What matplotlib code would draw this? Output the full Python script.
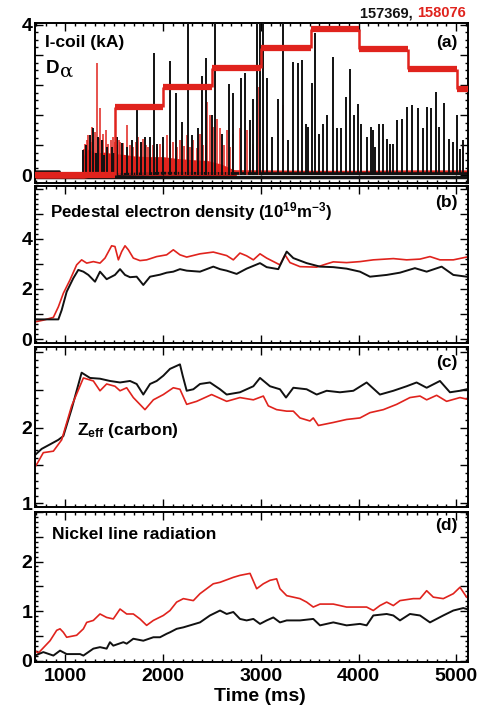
import matplotlib
matplotlib.use('Agg')
import matplotlib.pyplot as plt
from matplotlib.ticker import FixedLocator, MultipleLocator, FuncFormatter

FONT = ['Liberation Sans', 'DejaVu Sans']
plt.rcParams['font.family'] = FONT
plt.rcParams['font.weight'] = 'bold'
plt.rcParams['mathtext.fontset'] = 'custom'
plt.rcParams['mathtext.rm'] = 'Liberation Sans:bold'
plt.rcParams['mathtext.it'] = 'Liberation Sans:bold'
plt.rcParams['mathtext.bf'] = 'Liberation Sans:bold'

RED = '#e0231d'
BLACK = '#111111'

# ---------------- data ----------------
# (a) I-coil current of shot 158076 (kA): step edges (ms) and levels
icoil_edges = [690, 1510, 2000, 2505, 3000, 3510, 4005, 4510, 5010, 5120]
icoil_levels = [0.0, 1.82, 2.34, 2.86, 3.38, 3.89, 3.36, 2.84, 2.31]

# (a) D-alpha ELM spikes, shot 157369 (black): time (ms), peak height
da_black_t = [1185, 1210, 1253, 1287, 1310, 1338, 1372, 1400, 1423, 1474, 1500, 1526,
              1580, 1628, 1679, 1730, 1770, 1815, 1867, 1907, 1935, 2003, 2071, 2132,
              2197, 2259, 2293, 2361, 2402, 2439, 2497, 2531, 2600, 2675, 2719, 2794,
              2838, 2890, 2924, 2965, 2992, 3026, 3067, 3111, 3179, 3231, 3282, 3333,
              3384, 3418, 3462, 3486, 3520, 3554, 3599, 3640, 3674, 3735, 3776, 3817,
              3868, 3913, 3953, 3991, 4025, 4083, 4124, 4144, 4168, 4213, 4247, 4294,
              4322, 4356, 4396, 4441, 4492, 4543, 4612, 4656, 4704, 4738, 4792, 4826,
              4874, 4929, 4970, 5004, 5038, 5065]
da_black_h = [0.67, 0.80, 1.07, 1.25, 0.60, 1.02, 0.93, 0.55, 0.76, 0.76, 0.60, 1.02,
              0.85, 0.76, 0.93, 1.84, 0.90, 1.02, 1.02, 3.24, 0.84, 1.02, 3.05, 2.18,
              1.42, 4.20, 1.07, 1.25, 2.64, 3.11, 1.60, 4.20, 1.11, 2.42, 2.18, 2.58,
              2.73, 1.47, 2.04, 4.20, 4.20, 4.20, 2.58, 1.02, 2.04, 4.20, 0.93, 3.02,
              2.98, 3.07, 1.38, 1.29, 2.46, 3.78, 1.11, 1.38, 1.60, 3.16, 1.25, 1.25,
              2.09, 2.82, 1.60, 1.91, 1.38, 1.02, 1.29, 1.20, 0.76, 1.38, 1.38, 0.98,
              0.84, 0.84, 1.47, 1.51, 1.82, 1.87, 1.78, 1.25, 1.82, 1.78, 2.22, 1.29,
              1.93, 0.98, 0.89, 1.60, 0.71, 0.93]

# (a) D-alpha ELM spikes, shot 158076 (red)
da_red_t = [1190, 1202, 1220, 1236, 1260, 1275, 1287, 1305, 1328, 1340, 1355, 1372,
            1389, 1415, 1440, 1465, 1491, 1510, 1526, 1545, 1560, 1595, 1628, 1660,
            1696, 1720, 1747, 1775, 1798, 1825, 1849, 1900, 1940, 1969, 2000, 2037,
            2070, 2105, 2140, 2173, 2210, 2242, 2275, 2310, 2345, 2378, 2410, 2446,
            2480, 2514, 2549, 2583, 2620, 2651, 2685, 2719, 2787, 2855, 2924, 2985,
            3060, 3224, 5065]
da_red_h = [0.70, 0.84, 0.95, 1.07, 0.90, 1.30, 0.98, 1.15, 2.98, 1.00, 1.78, 0.95,
            1.11, 1.20, 0.84, 0.95, 1.02, 0.90, 0.80, 0.95, 0.89, 0.85, 1.33, 0.80,
            0.76, 0.90, 1.02, 0.85, 0.98, 0.80, 0.76, 0.80, 0.75, 0.84, 0.78, 1.07,
            0.80, 0.89, 0.75, 0.93, 0.78, 1.07, 0.75, 0.93, 0.72, 1.11, 0.80, 1.96,
            1.60, 1.29, 1.51, 1.25, 0.80, 1.20, 0.75, 1.11, 1.25, 1.20, 0.84, 2.36,
            0.84, 1.87, 0.89]

# (a) dense red D-alpha envelope during the early ELMy phase
red_grass_t = [1180, 1230, 1290, 1330, 1400, 1500, 1600, 1700, 1850, 2000, 2150,
               2300, 2450, 2600, 2750]
red_grass_v = [0.50, 0.70, 0.62, 0.60, 0.62, 0.58, 0.56, 0.52, 0.50, 0.50, 0.45,
               0.42, 0.40, 0.30, 0.12]

# (a) baselines
da_black_base_t = [690, 940, 945, 1190, 2000, 3000, 4000, 5120]
da_black_base_v = [0.10, 0.10, 0.00, 0.00, 0.06, 0.05, 0.05, 0.05]
da_red_base_t = [690, 1190, 1500, 2500, 3000, 3500, 4000, 4500, 5120]
da_red_base_v = [-0.03, -0.03, 0.10, 0.09, 0.08, 0.07, 0.07, 0.08, 0.08]
icoil_black_t = [690, 5120]
icoil_black_v = [-0.05, -0.05]

# (b) pedestal electron density (1e19 m^-3)
ne_red_t = [690, 775, 878, 929, 980, 1048, 1116, 1167, 1219, 1287, 1355, 1406, 1474,
            1508, 1543, 1577, 1611, 1645, 1696, 1764, 1832, 1935, 2037, 2105, 2173,
            2242, 2378, 2514, 2651, 2719, 2787, 2855, 2924, 2992, 3060, 3196, 3248,
            3299, 3401, 3572, 3674, 3742, 3878, 4015, 4151, 4356, 4492, 4629, 4731,
            4833, 4970, 5106]
ne_red_v = [0.69, 0.76, 0.87, 1.29, 1.83, 2.36, 2.96, 3.16, 3.03, 3.09, 3.03, 3.23,
            3.72, 3.69, 3.16, 3.49, 3.72, 3.56, 3.23, 3.13, 3.16, 3.29, 3.36, 3.56,
            3.36, 3.27, 3.40, 3.47, 3.33, 3.16, 3.43, 3.32, 3.16, 3.40, 3.23, 2.96,
            3.36, 3.05, 2.89, 2.87, 3.00, 3.08, 3.05, 3.09, 3.16, 3.21, 3.16, 3.19,
            3.29, 3.16, 3.16, 3.27]
ne_black_t = [690, 929, 963, 1014, 1082, 1133, 1185, 1236, 1304, 1355, 1423, 1508,
              1560, 1611, 1662, 1730, 1798, 1867, 1969, 2037, 2105, 2173, 2242, 2378,
              2514, 2583, 2651, 2753, 2855, 2992, 3060, 3179, 3265, 3333, 3469, 3606,
              3742, 3878, 4015, 4117, 4288, 4424, 4577, 4697, 4850, 4970, 5106]
ne_black_v = [0.79, 0.79, 1.16, 1.89, 2.43, 2.76, 2.69, 2.56, 2.29, 2.69, 2.39, 2.56,
              2.79, 2.56, 2.47, 2.49, 2.16, 2.49, 2.57, 2.65, 2.69, 2.79, 2.73, 2.69,
              2.89, 2.79, 2.73, 2.60, 2.81, 3.03, 2.87, 2.79, 3.49, 3.23, 3.03, 2.89,
              2.87, 2.81, 2.69, 2.49, 2.56, 2.65, 2.83, 2.69, 2.89, 2.56, 2.49]

# (c) Zeff (carbon)
zeff_black_t = [700, 758, 844, 929, 980, 1065, 1167, 1253, 1355, 1457, 1560, 1662,
                1730, 1798, 1867, 1935, 2003, 2071, 2173, 2201, 2242, 2310, 2378,
                2480, 2583, 2651, 2787, 2924, 2992, 3094, 3196, 3258, 3333, 3469,
                3572, 3674, 3810, 3947, 4083, 4219, 4356, 4492, 4594, 4697, 4833,
                4935, 5038, 5106]
zeff_black_v = [1.65, 1.72, 1.78, 1.84, 1.89, 2.25, 2.73, 2.66, 2.65, 2.62, 2.60,
                2.62, 2.58, 2.44, 2.58, 2.62, 2.69, 2.78, 2.84, 2.69, 2.49, 2.51,
                2.58, 2.60, 2.51, 2.44, 2.47, 2.55, 2.66, 2.55, 2.51, 2.40, 2.53,
                2.51, 2.44, 2.49, 2.47, 2.49, 2.60, 2.44, 2.49, 2.55, 2.60, 2.53,
                2.62, 2.47, 2.49, 2.51]
zeff_red_t = [700, 714, 775, 878, 963, 1065, 1185, 1287, 1355, 1423, 1508, 1560,
              1628, 1696, 1815, 1901, 2003, 2105, 2173, 2242, 2344, 2497, 2651, 2787,
              2924, 3026, 3077, 3162, 3265, 3333, 3401, 3503, 3537, 3589, 3742, 3878,
              4015, 4117, 4254, 4390, 4526, 4629, 4697, 4799, 4901, 5038, 5106]
zeff_red_v = [1.50, 1.53, 1.67, 1.69, 1.84, 2.29, 2.66, 2.62, 2.49, 2.58, 2.55, 2.49,
              2.53, 2.40, 2.24, 2.37, 2.44, 2.53, 2.51, 2.31, 2.35, 2.44, 2.35, 2.40,
              2.37, 2.42, 2.29, 2.24, 2.22, 2.22, 2.13, 2.09, 2.13, 2.03, 2.07, 2.11,
              2.13, 2.20, 2.24, 2.31, 2.40, 2.42, 2.37, 2.43, 2.35, 2.40, 2.38]

# (d) nickel line radiation
ni_red_t = [690, 724, 844, 912, 946, 980, 1014, 1116, 1185, 1219, 1287, 1355, 1423,
            1491, 1560, 1628, 1696, 1764, 1832, 1901, 2003, 2071, 2139, 2208, 2310,
            2378, 2446, 2514, 2583, 2719, 2787, 2890, 2958, 3026, 3094, 3162, 3196,
            3265, 3333, 3401, 3469, 3537, 3606, 3742, 3878, 4015, 4083, 4151, 4219,
            4288, 4356, 4424, 4560, 4629, 4697, 4765, 4867, 4970, 5038, 5106]
ni_red_v = [0.20, 0.15, 0.40, 0.61, 0.64, 0.57, 0.47, 0.51, 0.64, 0.77, 0.81, 0.94,
            0.87, 0.84, 1.04, 0.94, 0.94, 0.84, 0.71, 0.81, 0.91, 1.01, 1.18, 1.25,
            1.21, 1.35, 1.45, 1.55, 1.58, 1.68, 1.72, 1.76, 1.45, 1.55, 1.62, 1.65,
            1.45, 1.31, 1.28, 1.25, 1.18, 1.08, 1.14, 1.14, 1.08, 1.08, 1.08, 1.01,
            1.11, 1.18, 1.11, 1.21, 1.25, 1.25, 1.41, 1.28, 1.25, 1.35, 1.48, 1.28]
ni_black_t = [690, 775, 878, 946, 1014, 1151, 1185, 1287, 1355, 1423, 1457, 1491,
              1594, 1628, 1696, 1798, 1901, 1969, 2037, 2071, 2139, 2208, 2276, 2378,
              2480, 2583, 2651, 2719, 2787, 2855, 2924, 2992, 3060, 3128, 3196, 3265,
              3401, 3537, 3606, 3674, 3742, 3878, 4015, 4083, 4151, 4288, 4356, 4424,
              4526, 4629, 4731, 4867, 4970, 5072, 5106]
ni_black_v = [0.10, 0.17, 0.10, 0.20, 0.13, 0.13, 0.10, 0.24, 0.27, 0.24, 0.37, 0.30,
              0.37, 0.34, 0.44, 0.40, 0.47, 0.47, 0.54, 0.57, 0.64, 0.67, 0.71, 0.77,
              0.91, 1.01, 0.94, 0.98, 0.84, 0.81, 0.84, 0.74, 0.81, 0.87, 0.77, 0.81,
              0.81, 0.84, 0.71, 0.74, 0.77, 0.71, 0.74, 0.71, 0.91, 0.94, 0.91, 0.81,
              0.94, 0.91, 0.77, 0.91, 1.01, 1.06, 1.04]

x_ticks = [1000, 2000, 3000, 4000, 5000]
shots = ['157369', '158076']

# ---------------- layout ----------------
W, H = 484, 711
fig = plt.figure(figsize=(W / 100, H / 100), dpi=100)
L, R = 35, 468

def box(top, bot):
    return [L / W, 1 - bot / H, (R - L) / W, (bot - top) / H]

axa = fig.add_axes(box(23, 183))
axb = fig.add_axes(box(186, 343))
axc = fig.add_axes(box(347, 507))
axd = fig.add_axes(box(512, 662))

XLIM = (690, 5120)

def style(ax, ylim, major, labeled, minor):
    ax.set_xlim(*XLIM)
    ax.set_ylim(*ylim)
    ax.xaxis.set_major_locator(FixedLocator(x_ticks))
    ax.xaxis.set_minor_locator(MultipleLocator(100))
    ax.yaxis.set_major_locator(FixedLocator(major))
    ax.yaxis.set_minor_locator(MultipleLocator(minor))
    ax.yaxis.set_major_formatter(FuncFormatter(
        lambda v, p: ('%g' % v) if any(abs(v - q) < 1e-6 for q in labeled) else ''))
    ax.tick_params(which='both', direction='in', top=True, right=True, width=1.0)
    ax.tick_params(which='major', length=5.5, labelsize=14, pad=2)
    ax.tick_params(which='minor', length=2.5)
    for s in ax.spines.values():
        s.set_linewidth(1.4)
    ax.tick_params(axis='x', labelbottom=False)

style(axa, (-0.2, 4.05), [0, 0.8, 1.6, 2.4, 3.2, 4.0], [0, 4], 0.2)
style(axb, (-0.15, 6.1), [0, 1, 2, 3, 4, 5, 6], [0, 2, 4], 0.2)
style(axc, (0.95, 3.07), [1, 1.5, 2, 2.5, 3], [1, 2], 0.1)
style(axd, (-0.03, 3.0), [0, 0.5, 1, 1.5, 2, 2.5, 3], [0, 1, 2], 0.1)
axd.tick_params(axis='x', labelbottom=True, labelsize=14, pad=4)
axd.set_xticklabels([str(v) for v in x_ticks])

# ---- panel (a)
axa.fill_between(red_grass_t, -0.03, red_grass_v, color=RED, lw=0, zorder=1)
axa.plot(icoil_black_t, icoil_black_v, color=BLACK, lw=2.5, zorder=2)
axa.plot(da_red_base_t, da_red_base_v, color=RED, lw=3, zorder=2)
axa.plot(da_black_base_t, da_black_base_v, color=BLACK, lw=2, zorder=2)
axa.vlines(da_red_t, 0.0, da_red_h, color=RED, lw=1.1, zorder=3)
axa.vlines(da_black_t, 0.0, da_black_h, color=BLACK, lw=1.4, zorder=4)
axa.hlines(icoil_levels, icoil_edges[:-1], icoil_edges[1:], color=RED, lw=4.5,
           zorder=5)
axa.vlines(icoil_edges[1:-1], icoil_levels[:-1], icoil_levels[1:], color=RED,
           lw=1.8, zorder=5)

# ---- panel (b)
axb.plot(ne_red_t, ne_red_v, color=RED, lw=1.2)
axb.plot(ne_black_t, ne_black_v, color=BLACK, lw=1.4)

# ---- panel (c)
axc.plot(zeff_black_t, zeff_black_v, color=BLACK, lw=1.4)
axc.plot(zeff_red_t, zeff_red_v, color=RED, lw=1.2)

# ---- panel (d)
axd.plot(ni_red_t, ni_red_v, color=RED, lw=1.2)
axd.plot(ni_black_t, ni_black_v, color=BLACK, lw=1.4)

# ---- texts
LFS = 12.5
axa.text(0.023, 0.88, 'I-coil (kA)', transform=axa.transAxes, fontsize=LFS,
         ha='left', va='center')
t_d = axa.text(0.025, 0.715, 'D', transform=axa.transAxes, fontsize=LFS + 1,
               ha='left', va='center')
axb.text(0.035, 0.835, r'Pedestal electron density (10$^{19}$m$^{-3}$)',
         transform=axb.transAxes, fontsize=12.2, ha='left', va='center')
axc.text(0.097, 0.475, r'Z$_{eff}$ (carbon)', transform=axc.transAxes,
         fontsize=LFS, ha='left', va='center')
axd.text(0.039, 0.853, 'Nickel line radiation', transform=axd.transAxes,
         fontsize=LFS, ha='left', va='center')
for ax, lab, yy in [(axa, '(a)', 0.88), (axb, '(b)', 0.898),
                    (axc, '(c)', 0.906), (axd, '(d)', 0.913)]:
    ax.text(0.975, yy, lab, transform=ax.transAxes, fontsize=LFS,
            ha='right', va='center')

fig.text(0.537, 0.02, 'Time (ms)', ha='center', va='center', fontsize=14)

# shot numbers + alpha of D-alpha (placed after measuring neighbours)
t_red = fig.text(466 / W, 1 - 13 / H, shots[1], color=RED, fontsize=10.5,
                 ha='right', va='center')
fig.canvas.draw()
rend = fig.canvas.get_renderer()
bb = t_red.get_window_extent(rend)
fig.text(bb.x0 / W, 1 - 13 / H, shots[0] + ', ', color=BLACK, fontsize=10.5,
         ha='right', va='center')
bd = t_d.get_window_extent(rend)
fig.text(bd.x1 / W + 0.002, (bd.y0 + 0.5) / H, '\u03b1', fontsize=14,
         fontweight='normal', family=['DejaVu Serif'], ha='left', va='baseline')

fig.savefig('out.png', dpi=100)
